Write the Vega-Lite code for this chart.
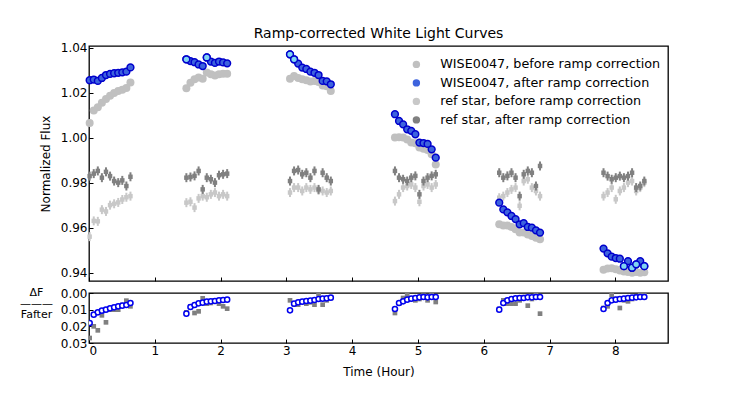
{
  "$schema": "https://vega.github.io/schema/vega-lite/v6.json",
  "padding": {"left": 18, "top": 26, "right": 5, "bottom": 5},
  "background": "#ffffff",
  "config": {
    "font": "DejaVu Sans",
    "view": {"stroke": "#000000", "strokeWidth": 1.3},
    "axis": {"grid": false, "domain": false, "tickColor": "#000000", "tickSize": -4, "tickWidth": 1, "labelColor": "#000000", "labelFontSize": 12, "titleFontSize": 12, "titleFontWeight": "normal", "titleColor": "#000000", "labelPadding": 6, "labelOverlap": false}
  },
  "datasets": {
    "obs": [
      {"t":0.010,"wb":1.0065,"wa":1.0255,"lt":0,"rb":0.9560,"ra":0.9829,"dw":0.0180,"dr":0.0270,"we":0.001,"re":0.002},
      {"t":0.072,"wb":1.0120,"wa":1.0258,"lt":0,"rb":0.9630,"ra":0.9840,"dw":0.0130,"dr":0.0200,"we":0.001,"re":0.002},
      {"t":0.134,"wb":1.0135,"wa":1.0252,"lt":0,"rb":0.9628,"ra":0.9852,"dw":0.0116,"dr":0.0224,"we":0.001,"re":0.002},
      {"t":0.196,"wb":1.0155,"wa":1.0265,"lt":0,"rb":0.9680,"ra":0.9822,"dw":0.0106,"dr":0.0134,"we":0.001,"re":0.002},
      {"t":0.258,"wb":1.0172,"wa":1.0278,"lt":0,"rb":0.9672,"ra":0.9848,"dw":0.0100,"dr":0.0176,"we":0.001,"re":0.002},
      {"t":0.320,"wb":1.0186,"wa":1.0283,"lt":0,"rb":0.9700,"ra":0.9829,"dw":0.0092,"dr":0.0100,"we":0.001,"re":0.002},
      {"t":0.382,"wb":1.0198,"wa":1.0286,"lt":0,"rb":0.9706,"ra":0.9807,"dw":0.0086,"dr":0.0100,"we":0.001,"re":0.002},
      {"t":0.444,"wb":1.0207,"wa":1.0288,"lt":0,"rb":0.9712,"ra":0.9800,"dw":0.0080,"dr":0.0100,"we":0.001,"re":0.002},
      {"t":0.506,"wb":1.0213,"wa":1.0290,"lt":0,"rb":0.9725,"ra":0.9810,"dw":0.0076,"dr":0.0072,"we":0.001,"re":0.002},
      {"t":0.568,"wb":1.0220,"wa":1.0293,"lt":0,"rb":0.9735,"ra":0.9785,"dw":0.0072,"dr":0.0046,"we":0.001,"re":0.002},
      {"t":0.630,"wb":1.0245,"wa":1.0312,"lt":0,"rb":0.9740,"ra":0.9826,"dw":0.0060,"dr":0.0080,"we":0.001,"re":0.002},
      {"t":1.480,"wb":1.0219,"wa":1.0348,"lt":1,"rb":0.9711,"ra":0.9822,"dw":0.0124,"dr":0.0116,"we":0.001,"re":0.002},
      {"t":1.542,"wb":1.0244,"wa":1.0340,"lt":0,"rb":0.9715,"ra":0.9825,"dw":0.0084,"dr":0.0080,"we":0.001,"re":0.002},
      {"t":1.604,"wb":1.0259,"wa":1.0335,"lt":0,"rb":0.9689,"ra":0.9830,"dw":0.0072,"dr":0.0120,"we":0.001,"re":0.002},
      {"t":1.666,"wb":1.0267,"wa":1.0325,"lt":0,"rb":0.9730,"ra":0.9852,"dw":0.0062,"dr":0.0110,"we":0.001,"re":0.002},
      {"t":1.728,"wb":1.0262,"wa":1.0318,"lt":0,"rb":0.9740,"ra":0.9770,"dw":0.0058,"dr":0.0032,"we":0.001,"re":0.002},
      {"t":1.790,"wb":1.0289,"wa":1.0356,"lt":1,"rb":0.9735,"ra":0.9822,"dw":0.0052,"dr":0.0064,"we":0.001,"re":0.002},
      {"t":1.852,"wb":1.0281,"wa":1.0338,"lt":0,"rb":0.9748,"ra":0.9815,"dw":0.0050,"dr":0.0060,"we":0.001,"re":0.002},
      {"t":1.914,"wb":1.0276,"wa":1.0332,"lt":0,"rb":0.9756,"ra":0.9800,"dw":0.0048,"dr":0.0044,"we":0.001,"re":0.002},
      {"t":1.976,"wb":1.0281,"wa":1.0338,"lt":0,"rb":0.9740,"ra":0.9833,"dw":0.0044,"dr":0.0064,"we":0.001,"re":0.002},
      {"t":2.038,"wb":1.0284,"wa":1.0334,"lt":0,"rb":0.9748,"ra":0.9837,"dw":0.0042,"dr":0.0080,"we":0.001,"re":0.002},
      {"t":2.100,"wb":1.0284,"wa":1.0330,"lt":0,"rb":0.9740,"ra":0.9840,"dw":0.0040,"dr":0.0094,"we":0.001,"re":0.002},
      {"t":3.055,"wb":1.0262,"wa":1.0370,"lt":1,"rb":0.9756,"ra":0.9807,"dw":0.0104,"dr":0.0044,"we":0.001,"re":0.002},
      {"t":3.117,"wb":1.0274,"wa":1.0348,"lt":1,"rb":0.9778,"ra":0.9852,"dw":0.0064,"dr":0.0070,"we":0.001,"re":0.002},
      {"t":3.179,"wb":1.0265,"wa":1.0329,"lt":0,"rb":0.9778,"ra":0.9856,"dw":0.0056,"dr":0.0070,"we":0.001,"re":0.002},
      {"t":3.241,"wb":1.0259,"wa":1.0311,"lt":0,"rb":0.9763,"ra":0.9837,"dw":0.0052,"dr":0.0052,"we":0.001,"re":0.002},
      {"t":3.303,"wb":1.0255,"wa":1.0305,"lt":0,"rb":0.9778,"ra":0.9844,"dw":0.0048,"dr":0.0064,"we":0.001,"re":0.002},
      {"t":3.365,"wb":1.0249,"wa":1.0293,"lt":0,"rb":0.9770,"ra":0.9822,"dw":0.0046,"dr":0.0056,"we":0.001,"re":0.002},
      {"t":3.427,"wb":1.0252,"wa":1.0288,"lt":0,"rb":0.9778,"ra":0.9852,"dw":0.0042,"dr":0.0070,"we":0.001,"re":0.002},
      {"t":3.489,"wb":1.0247,"wa":1.0278,"lt":0,"rb":0.9766,"ra":0.9770,"dw":0.0036,"dr":0.0004,"we":0.001,"re":0.002},
      {"t":3.551,"wb":1.0232,"wa":1.0252,"lt":0,"rb":0.9763,"ra":0.9844,"dw":0.0034,"dr":0.0070,"we":0.001,"re":0.002},
      {"t":3.613,"wb":1.0228,"wa":1.0250,"lt":0,"rb":0.9756,"ra":0.9822,"dw":0.0032,"dr":0.0044,"we":0.001,"re":0.002},
      {"t":3.675,"wb":1.0207,"wa":1.0237,"lt":0,"rb":0.9763,"ra":0.9807,"dw":0.0028,"dr":0.0030,"we":0.001,"re":0.002},
      {"t":4.650,"wb":1.0000,"wa":1.0104,"lt":0,"rb":0.9718,"ra":0.9852,"dw":0.0096,"dr":0.0120,"we":0.001,"re":0.002},
      {"t":4.712,"wb":1.0002,"wa":1.0074,"lt":0,"rb":0.9748,"ra":0.9822,"dw":0.0060,"dr":0.0064,"we":0.001,"re":0.002},
      {"t":4.774,"wb":1.0000,"wa":1.0059,"lt":0,"rb":0.9778,"ra":0.9815,"dw":0.0050,"dr":0.0030,"we":0.001,"re":0.002},
      {"t":4.836,"wb":0.9992,"wa":1.0037,"lt":0,"rb":0.9785,"ra":0.9807,"dw":0.0040,"dr":0.0010,"we":0.001,"re":0.002},
      {"t":4.898,"wb":0.9978,"wa":1.0030,"lt":0,"rb":0.9792,"ra":0.9822,"dw":0.0034,"dr":0.0036,"we":0.001,"re":0.002},
      {"t":4.960,"wb":0.9975,"wa":1.0015,"lt":0,"rb":0.9778,"ra":0.9830,"dw":0.0030,"dr":0.0044,"we":0.001,"re":0.002},
      {"t":5.022,"wb":0.9956,"wa":0.9978,"lt":0,"rb":0.9715,"ra":0.9748,"dw":0.0026,"dr":0.0036,"we":0.001,"re":0.002},
      {"t":5.084,"wb":0.9950,"wa":0.9976,"lt":0,"rb":0.9785,"ra":0.9807,"dw":0.0024,"dr":0.0016,"we":0.001,"re":0.002},
      {"t":5.146,"wb":0.9945,"wa":0.9972,"lt":0,"rb":0.9792,"ra":0.9822,"dw":0.0026,"dr":0.0044,"we":0.001,"re":0.002},
      {"t":5.208,"wb":0.9926,"wa":0.9948,"lt":0,"rb":0.9778,"ra":0.9830,"dw":0.0024,"dr":0.0010,"we":0.001,"re":0.002},
      {"t":5.270,"wb":0.9881,"wa":0.9911,"lt":0,"rb":0.9792,"ra":0.9837,"dw":0.0024,"dr":0.0054,"we":0.001,"re":0.002},
      {"t":6.235,"wb":0.9615,"wa":0.9711,"lt":0,"rb":0.9733,"ra":0.9844,"dw":0.0100,"dr":0.0096,"we":0.001,"re":0.002},
      {"t":6.297,"wb":0.9610,"wa":0.9681,"lt":0,"rb":0.9740,"ra":0.9822,"dw":0.0060,"dr":0.0044,"we":0.001,"re":0.002},
      {"t":6.359,"wb":0.9610,"wa":0.9668,"lt":0,"rb":0.9756,"ra":0.9830,"dw":0.0044,"dr":0.0064,"we":0.001,"re":0.002},
      {"t":6.421,"wb":0.9603,"wa":0.9652,"lt":0,"rb":0.9770,"ra":0.9844,"dw":0.0036,"dr":0.0064,"we":0.001,"re":0.002},
      {"t":6.483,"wb":0.9593,"wa":0.9638,"lt":0,"rb":0.9778,"ra":0.9822,"dw":0.0032,"dr":0.0064,"we":0.001,"re":0.002},
      {"t":6.545,"wb":0.9578,"wa":0.9615,"lt":0,"rb":0.9697,"ra":0.9740,"dw":0.0030,"dr":0.0044,"we":0.001,"re":0.002},
      {"t":6.607,"wb":0.9578,"wa":0.9620,"lt":0,"rb":0.9807,"ra":0.9837,"dw":0.0030,"dr":0.0024,"we":0.001,"re":0.002},
      {"t":6.669,"wb":0.9570,"wa":0.9603,"lt":0,"rb":0.9815,"ra":0.9852,"dw":0.0026,"dr":0.0076,"we":0.001,"re":0.002},
      {"t":6.731,"wb":0.9563,"wa":0.9600,"lt":0,"rb":0.9778,"ra":0.9844,"dw":0.0026,"dr":0.0036,"we":0.001,"re":0.002},
      {"t":6.793,"wb":0.9555,"wa":0.9588,"lt":0,"rb":0.9763,"ra":0.9785,"dw":0.0024,"dr":0.0004,"we":0.001,"re":0.002},
      {"t":6.855,"wb":0.9548,"wa":0.9578,"lt":0,"rb":0.9740,"ra":0.9874,"dw":0.0024,"dr":0.0124,"we":0.001,"re":0.002},
      {"t":7.820,"wb":0.9413,"wa":0.9507,"lt":0,"rb":0.9740,"ra":0.9844,"dw":0.0096,"dr":0.0090,"we":0.001,"re":0.002},
      {"t":7.882,"wb":0.9418,"wa":0.9486,"lt":0,"rb":0.9756,"ra":0.9829,"dw":0.0060,"dr":0.0080,"we":0.001,"re":0.002},
      {"t":7.944,"wb":0.9420,"wa":0.9471,"lt":0,"rb":0.9778,"ra":0.9815,"dw":0.0044,"dr":0.0010,"we":0.001,"re":0.002},
      {"t":8.006,"wb":0.9415,"wa":0.9465,"lt":0,"rb":0.9726,"ra":0.9822,"dw":0.0040,"dr":0.0036,"we":0.001,"re":0.002},
      {"t":8.068,"wb":0.9410,"wa":0.9462,"lt":0,"rb":0.9763,"ra":0.9829,"dw":0.0036,"dr":0.0090,"we":0.001,"re":0.002},
      {"t":8.130,"wb":0.9405,"wa":0.9429,"lt":1,"rb":0.9778,"ra":0.9822,"dw":0.0034,"dr":0.0044,"we":0.001,"re":0.002},
      {"t":8.192,"wb":0.9403,"wa":0.9451,"lt":0,"rb":0.9800,"ra":0.9829,"dw":0.0030,"dr":0.0050,"we":0.001,"re":0.002},
      {"t":8.254,"wb":0.9400,"wa":0.9422,"lt":1,"rb":0.9807,"ra":0.9844,"dw":0.0028,"dr":0.0036,"we":0.001,"re":0.002},
      {"t":8.316,"wb":0.9403,"wa":0.9437,"lt":1,"rb":0.9763,"ra":0.9778,"dw":0.0026,"dr":0.0020,"we":0.001,"re":0.002},
      {"t":8.378,"wb":0.9400,"wa":0.9451,"lt":0,"rb":0.9778,"ra":0.9785,"dw":0.0024,"dr":0.0010,"we":0.001,"re":0.002},
      {"t":8.440,"wb":0.9402,"wa":0.9429,"lt":1,"rb":0.9800,"ra":0.9807,"dw":0.0024,"dr":0.0010,"we":0.001,"re":0.002}
    ]
  },
  "spacing": 2,
  "resolve": {"scale": {"color": "independent"}, "legend": {"color": "independent"}},
  "vconcat": [
    {
      "width": 579,
      "height": 235,
      "title": {"text": "Ramp-corrected White Light Curves", "fontSize": 14, "fontWeight": "normal", "frame": "group", "anchor": "middle", "offset": 0.5, "color": "#000000"},
      "data": {"name": "obs"},
      "encoding": {
        "x": {"field": "t", "type": "quantitative", "scale": {"domain": [0, 8.8], "nice": false, "zero": false}, "axis": {"values": [0, 1, 2, 3, 4, 5, 6, 7, 8], "labels": false, "title": null, "labelPadding": 0}}
      },
      "layer": [
        {
          "mark": {"type": "errorbar", "color": "#c8c8c8", "thickness": 2, "ticks": false},
          "encoding": {
            "y": {"field": "rb", "type": "quantitative", "title": "Normalized Flux", "scale": {"domain": [0.9363, 1.0407], "nice": false, "zero": false}, "axis": {"values": [0.94, 0.96, 0.98, 1.0, 1.02, 1.04], "format": ".2f", "titlePadding": 8}},
            "yError": {"field": "re"}
          }
        },
        {
          "mark": {"type": "point", "filled": true, "shape": "square", "size": 20, "opacity": 1},
          "encoding": {
            "y": {"field": "rb", "type": "quantitative", "title": "Normalized Flux"},
            "color": {"datum": "ref star, before ramp correction", "scale": {"domain": ["WISE0047, before ramp correction", "WISE0047, after ramp correction", "ref star, before ramp correction", "ref star, after ramp correction"], "range": ["#c0c0c0", "#3d63dd", "#c8c8c8", "#808080"]},
              "legend": {"orient": "none", "legendX": 321, "legendY": 12, "title": null, "labelFontSize": 12.75, "labelColor": "#000000", "labelLimit": 0, "symbolSize": 55, "rowPadding": 4.5, "labelOffset": 17.5, "padding": 0,
                "encode": {"symbols": {"update": {
                  "shape": {"signal": "indexof(datum.value, 'ref') === 0 ? 'square' : 'circle'"},
                  "size": {"signal": "indexof(datum.value, 'ref') === 0 ? 25 : 55"},
                  "stroke": {"signal": "datum.value === 'WISE0047, after ramp correction' ? '#0000cc' : 'transparent'"},
                  "strokeWidth": {"value": 1.5}
                }}}
              }
            }
          }
        },
        {
          "mark": {"type": "errorbar", "color": "#808080", "thickness": 2, "ticks": false},
          "encoding": {
            "y": {"field": "ra", "type": "quantitative", "title": "Normalized Flux"},
            "yError": {"field": "re"}
          }
        },
        {
          "mark": {"type": "point", "filled": true, "shape": "square", "size": 20, "opacity": 1},
          "encoding": {
            "y": {"field": "ra", "type": "quantitative", "title": "Normalized Flux"},
            "color": {"datum": "ref star, after ramp correction"}
          }
        },
        {
          "mark": {"type": "errorbar", "color": "#c0c0c0", "thickness": 1.5, "ticks": false},
          "encoding": {
            "y": {"field": "wb", "type": "quantitative", "title": "Normalized Flux"},
            "yError": {"field": "we"}
          }
        },
        {
          "mark": {"type": "point", "filled": true, "shape": "circle", "size": 64, "opacity": 1},
          "encoding": {
            "y": {"field": "wb", "type": "quantitative", "title": "Normalized Flux"},
            "color": {"datum": "WISE0047, before ramp correction"}
          }
        },
        {
          "mark": {"type": "errorbar", "color": "#0000cc", "thickness": 1.5, "ticks": false},
          "encoding": {
            "y": {"field": "wa", "type": "quantitative", "title": "Normalized Flux"},
            "yError": {"field": "we"}
          }
        },
        {
          "mark": {"type": "point", "filled": true, "shape": "circle", "size": 46, "opacity": 1, "stroke": "#0000cc", "strokeWidth": 1.5},
          "encoding": {
            "y": {"field": "wa", "type": "quantitative", "title": "Normalized Flux"},
            "color": {"datum": "WISE0047, after ramp correction"}
          }
        },
        {
          "transform": [{"filter": {"field": "lt", "equal": 1}}],
          "mark": {"type": "point", "filled": true, "shape": "circle", "size": 46, "opacity": 1, "fill": "#80d4f2", "stroke": "#0000cc", "strokeWidth": 1.5},
          "encoding": {
            "y": {"field": "wa", "type": "quantitative", "title": "Normalized Flux"}
          }
        }
      ]
    },
    {
      "width": 579,
      "height": 50,
      "data": {"name": "obs"},
      "encoding": {
        "x": {"field": "t", "type": "quantitative", "scale": {"domain": [0, 8.8], "nice": false, "zero": false}, "axis": {"values": [0, 1, 2, 3, 4, 5, 6, 7, 8], "format": "d", "title": "Time (Hour)", "titlePadding": 10, "labelPadding": 6}}
      },
      "layer": [
        {
          "mark": {"type": "point", "filled": true, "shape": "square", "size": 22, "color": "#808080", "opacity": 1, "clip": true},
          "encoding": {
            "y": {"field": "dr", "type": "quantitative", "scale": {"domain": [0, 0.03], "reverse": true, "nice": false, "zero": false},
              "title": ["ΔF", "———", "Fafter"],
              "axis": {"values": [0, 0.01, 0.02, 0.03], "format": ".2f", "labelOverlap": false, "labelBound": false, "titleAngle": 0, "titleAlign": "center", "titleBaseline": "top", "titleX": -53, "titleY": -7, "titleFontSize": 11, "titleLineHeight": 11}}
          }
        },
        {
          "mark": {"type": "point", "filled": false, "shape": "circle", "size": 26, "stroke": "#0000ee", "fill": "#ffffff", "strokeWidth": 1.5, "opacity": 1, "clip": true},
          "encoding": {
            "y": {"field": "dw", "type": "quantitative", "title": ["ΔF", "———", "Fafter"],
              "axis": {"values": [0, 0.01, 0.02, 0.03], "format": ".2f", "labelOverlap": false, "labelBound": false, "titleAngle": 0, "titleAlign": "center", "titleBaseline": "top", "titleX": -53, "titleY": -7, "titleFontSize": 11, "titleLineHeight": 11}}
          }
        }
      ]
    }
  ]
}
